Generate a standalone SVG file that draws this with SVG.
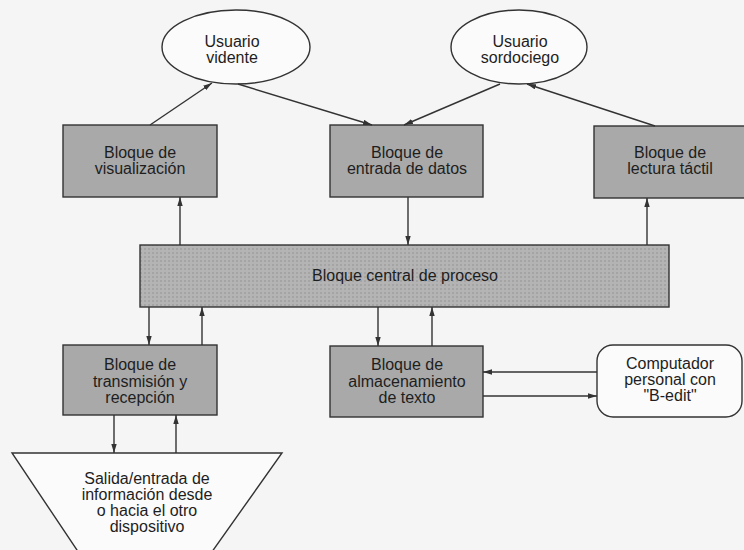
<svg xmlns="http://www.w3.org/2000/svg" width="744" height="550" viewBox="0 0 744 550">
  <defs>
    <marker id="ah" viewBox="0 0 10 6" refX="10" refY="3" markerWidth="9" markerHeight="5.4" markerUnits="userSpaceOnUse" orient="auto">
      <path d="M0,0 L10,3 L0,6 Z" fill="#333"/>
    </marker>
    <pattern id="dots" width="4" height="4" patternUnits="userSpaceOnUse">
      <rect width="4" height="4" fill="#b4b4b4"/>
      <rect width="2" height="2" fill="#a4a4a4"/>
    </pattern>
    <style>
      .box { fill: #a9a9a9; stroke: #333; stroke-width: 1.4; }
      .central { fill: url(#dots); stroke: #333; stroke-width: 1.4; }
      .white { fill: #fbfbfb; stroke: #333; stroke-width: 1.4; }
      .lbl { font-family: "Liberation Sans", Arial, sans-serif; font-size: 16px; fill: #1e1e1e; text-anchor: middle; }
      .conn line { stroke: #333; stroke-width: 1.4; marker-end: url(#ah); }
    </style>
  </defs>
  <rect width="744" height="550" fill="#f5f5f5"/>

  <g id="usuario-vidente">
    <ellipse class="white" cx="236" cy="47" rx="74" ry="37"/>
    <text class="lbl" x="232" y="47">Usuario</text>
    <text class="lbl" x="232" y="63">vidente</text>
  </g>
  <g id="usuario-sordociego">
    <ellipse class="white" cx="519" cy="47" rx="68" ry="37"/>
    <text class="lbl" x="520" y="47">Usuario</text>
    <text class="lbl" x="520" y="63">sordociego</text>
  </g>

  <g id="bloque-visualizacion">
    <rect class="box" x="63" y="125" width="154" height="72"/>
    <text class="lbl" x="140" y="158">Bloque de</text>
    <text class="lbl" x="140" y="174">visualización</text>
  </g>
  <g id="bloque-entrada">
    <rect class="box" x="330" y="125" width="153" height="72"/>
    <text class="lbl" x="407" y="158">Bloque de</text>
    <text class="lbl" x="407" y="174">entrada de datos</text>
  </g>
  <g id="bloque-lectura">
    <rect class="box" x="594" y="126" width="152" height="72"/>
    <text class="lbl" x="670" y="158">Bloque de</text>
    <text class="lbl" x="670" y="174">lectura táctil</text>
  </g>

  <g id="bloque-central">
    <rect class="central" x="140" y="245" width="529" height="62"/>
    <text class="lbl" x="405" y="281">Bloque central de proceso</text>
  </g>

  <g id="bloque-transmision">
    <rect class="box" x="63" y="345" width="154" height="70"/>
    <text class="lbl" x="140" y="370">Bloque de</text>
    <text class="lbl" x="140" y="387">transmisión y</text>
    <text class="lbl" x="140" y="403">recepción</text>
  </g>
  <g id="bloque-almacenamiento">
    <rect class="box" x="330" y="346" width="153" height="71"/>
    <text class="lbl" x="407" y="370">Bloque de</text>
    <text class="lbl" x="407" y="387">almacenamiento</text>
    <text class="lbl" x="407" y="403">de texto</text>
  </g>
  <g id="computador">
    <rect class="white" x="597" y="345" width="145" height="72" rx="16" ry="16"/>
    <text class="lbl" x="670" y="369">Computador</text>
    <text class="lbl" x="670" y="385">personal con</text>
    <text class="lbl" x="670" y="401">"B-edit"</text>
  </g>

  <g id="salida-entrada">
    <polygon class="white" points="12,453 282,453 209,556 81,556"/>
    <text class="lbl" x="147" y="484">Salida/entrada de</text>
    <text class="lbl" x="147" y="500">información desde</text>
    <text class="lbl" x="147" y="516">o hacia el otro</text>
    <text class="lbl" x="147" y="532">dispositivo</text>
  </g>

  <g id="connectors" class="conn">
    <line x1="150" y1="125" x2="212" y2="83"/>
    <line x1="238" y1="84" x2="372" y2="125"/>
    <line x1="500" y1="84" x2="404" y2="125"/>
    <line x1="655" y1="126" x2="527" y2="84"/>
    <line x1="180" y1="245" x2="180" y2="197"/>
    <line x1="408" y1="197" x2="408" y2="245"/>
    <line x1="647" y1="245" x2="647" y2="198"/>
    <line x1="149" y1="307" x2="149" y2="345"/>
    <line x1="202" y1="345" x2="202" y2="307"/>
    <line x1="378" y1="307" x2="378" y2="346"/>
    <line x1="432" y1="346" x2="432" y2="307"/>
    <line x1="114" y1="415" x2="114" y2="453"/>
    <line x1="176" y1="453" x2="176" y2="415"/>
    <line x1="597" y1="372" x2="483" y2="372"/>
    <line x1="483" y1="396" x2="597" y2="396"/>
  </g>
</svg>
